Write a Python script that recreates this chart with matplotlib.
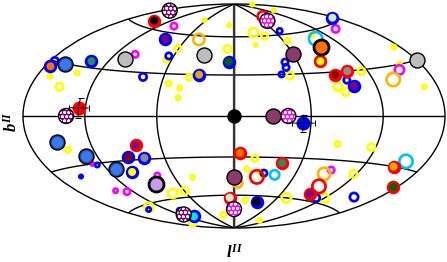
import matplotlib
matplotlib.use('Agg')
import matplotlib.pyplot as plt
import numpy as np

# plot settings
plt.rcParams['mathtext.fontset'] = 'custom'
plt.rcParams['mathtext.it'] = 'Liberation Serif:italic:bold'
plt.rcParams['mathtext.rm'] = 'Liberation Serif:bold'
plt.rcParams['hatch.linewidth'] = 0.8

# open rings, galactic coords in deg + size in px
yellow_l = [-64,-61,-65,-166,-141,-150,-38,-54,-44,-44,-7,-9,178,139,28,41,25,65,103,48,114,86,91,157,173,166,-144,-42,-77,-60,-137,-149,-29,18,12,27,117,85,116,120,17,45,72,95]
yellow_b = [73,49,40,22,26,17,28,23,20,13,50,70,85,78,63,60,53,55,57,29,29,20,16,30,39,16,-20,-45,-56,-55,-62,-78,-77,-31,-39,-42,-38,-19,-20,-56,-64,-67,-60,-80]
yellow_r = [3,4.5,4,3.5,3.5,5,4.5,4,3.5,3.5,5,3,3,3,6,4.5,3,4,4,5,5,5.5,5,3.5,3.5,3.5,4,3.5,6,5,6,5,4,4.5,3.5,5,5,4,5,6,4,4,6,3.5]
magenta_l = [-99,-100,145,152,-130,-138,-127,-76,2,92]
magenta_b = [65,42,57,27,-30,-48,-50,-42,-49,-37]
magenta_r = [4.5,4.5,5,6,3,3.5,4.5,4,4,4.5]
blue_l = [-65,-175,-78,68,48,47,41,96,-126,-154,-144,-105,29,152,110]
blue_b = [43,30,27,63,39,35,30,24,-31,-36,-63,-69,-42,-51,-57]
blue_r = [4.5,5,5,4,4.5,4.5,4,4.5,3.5,3,3.5,4,4.5,5.5,5]
orange_l = [-44,139,4,88]
orange_b = [57,22,-50,-40]
orange_r = [7,8,6,7.5]
cyan_l = [101,40,158]
cyan_b = [54,-43,-26]
cyan_r = [8,6,8]
red_l = [23,76,95]
red_b = [-45,76,-49]
red_r = [8,6.5,8]

# rings with a filled core
redcore_l = [-144,82,88,101,-81,5,43,150,176,95,-6]
redcore_b = [65,38,28,30,-20,-27,-34,-30,-40,-55,-62]
redcore_kind = ['black','yellow','darkred','gray','purple','orange','seagreen','gold','green','purple','pale']
bluecore_l = [-85,-137,-174,-30,-5,100,-92,-78,-98,-104,35,177]
bluecore_b = [55,34,27,30,40,20,-28,-29,-38,-75,-65,62]
bluecore_kind = ['purple','seagreen','orange','gold','green','purple','darkred','gray','yellow','cyan','black','pale']

# big filled sources
gray_l = [-30,-106,180]
gray_b = [45,38,30]
maroon_l = [60,30,0]
maroon_b = [45,0,-45]
bigblue_l = [-161,-151,-131,-111]
bigblue_b = [30,-15,-25,-35]
hatchpurple_l = [-172,-137,-113]
hatchpurple_b = [72,0,-72]
hatchmagenta_l = [70,42,0]
hatchmagenta_b = [72,0,-72]

# sources with error bars
err_l = [-126,54]
err_b = [5,-5]
err_dl = [9,9]
err_db = [6,6]

core_colors = {'black':'k','yellow':'#ffff00','darkred':'#8b0000','gray':'#8c8c8c','purple':'#800080',
               'orange':'#ff7000','seagreen':'#2e8b57','gold':'#e0a800','green':'#006400',
               'pale':'#c8f0d0','cyan':'#00e5ee'}

PX = 0.72  # points per pixel at dpi 100


def rad(a):
    return np.radians(np.asarray(a, dtype=float))


def rings(l, b, r, color, thick=2.7, z=3):
    d = 2*np.asarray(r, dtype=float) - thick
    ax.scatter(rad(l), rad(b), s=(d*PX)**2, facecolors='none', edgecolors=color, linewidths=thick*PX,
               zorder=z, clip_on=False)


def cored(l, b, kind, color, z=4):
    ax.scatter(rad(l), rad(b), s=(13.5*PX)**2, c=color, linewidths=0, zorder=z, clip_on=False)
    ax.scatter(rad(l), rad(b), s=(8*PX)**2, c=[core_colors[k] for k in kind], linewidths=0, zorder=z+0.1, clip_on=False)


def big(l, b, color, r=7.5, lw=1.0, z=5):
    ax.scatter(rad(l), rad(b), s=(2*r*PX)**2, c=color, edgecolors='k', linewidths=lw, zorder=z, clip_on=False)


def hatched(l, b, color, z=5):
    ax.scatter(rad(l), rad(b), s=(15*PX)**2, facecolors=color, edgecolors='w', hatch='oooo', linewidths=0,
               zorder=z, clip_on=False)
    ax.scatter(rad(l), rad(b), s=(15*PX)**2, facecolors='none', edgecolors='k', linewidths=1.0, zorder=z+0.1, clip_on=False)


fig = plt.figure(figsize=(4.47, 2.62), dpi=100)
ax = fig.add_axes([23/447, 1-228/262, 422/447, 224/262], projection='hammer')
ax.set_aspect('auto')
ax.set_longitude_grid(60)
ax.set_latitude_grid(30)
ax.set_longitude_grid_ends(90)
ax.grid(True, color='k', linewidth=1.0, linestyle='-')
ax.set_xticklabels([])
ax.set_yticklabels([])
ax.tick_params(length=0)
ax.spines['geo'].set_linewidth(1.0)
ax.plot([0, 0], rad([-90, 90]), color='#333333', linewidth=1.6, zorder=2.5)

rings(yellow_l, yellow_b, yellow_r, '#ffff00')
rings(magenta_l, magenta_b, magenta_r, '#ff00ff')
rings(blue_l, blue_b, blue_r, '#0000ff')
rings(orange_l, orange_b, orange_r, '#ffb400')
rings(cyan_l, cyan_b, cyan_r, '#00bfff')
rings(red_l, red_b, red_r, '#ff0000')
cored(redcore_l, redcore_b, redcore_kind, '#ff0000')
cored(bluecore_l, bluecore_b, bluecore_kind, '#0000ff')

big(gray_l, gray_b, '#bdbdbd')
big(maroon_l, maroon_b, '#8b3a6b')
big(bigblue_l, bigblue_b, '#1f4cb8')
ax.scatter(rad(bigblue_l), rad(bigblue_b), s=(11*PX)**2, c='#3a78f2', linewidths=0, zorder=5.1, clip_on=False)
big([0], [0], 'k', r=6.5)
big([-126], [5], '#ff0000', r=7, lw=0)
big([54], [-5], '#0000ff', r=7, lw=0)
big([96], [48], '#ff7000', r=7.5, lw=2)
big([-85], [-48], '#c89bf0', r=7.5, lw=2)
hatched(hatchpurple_l, hatchpurple_b, '#800080')
hatched(hatchmagenta_l, hatchmagenta_b, '#ff00ff')

ax.errorbar(rad(err_l), rad(err_b), xerr=rad(err_dl), yerr=rad(err_db), fmt='none', ecolor='k',
            elinewidth=0.7, capsize=2.5, capthick=0.7, zorder=6)

fig.text(12/447, 1-122/262, r'$b^{II}$', rotation=90, fontsize=12, ha='center', va='center')
fig.text(235/447, 1-253/262, r'$l^{II}$', fontsize=12, ha='center', va='center')

fig.savefig('out.png', dpi=100)
